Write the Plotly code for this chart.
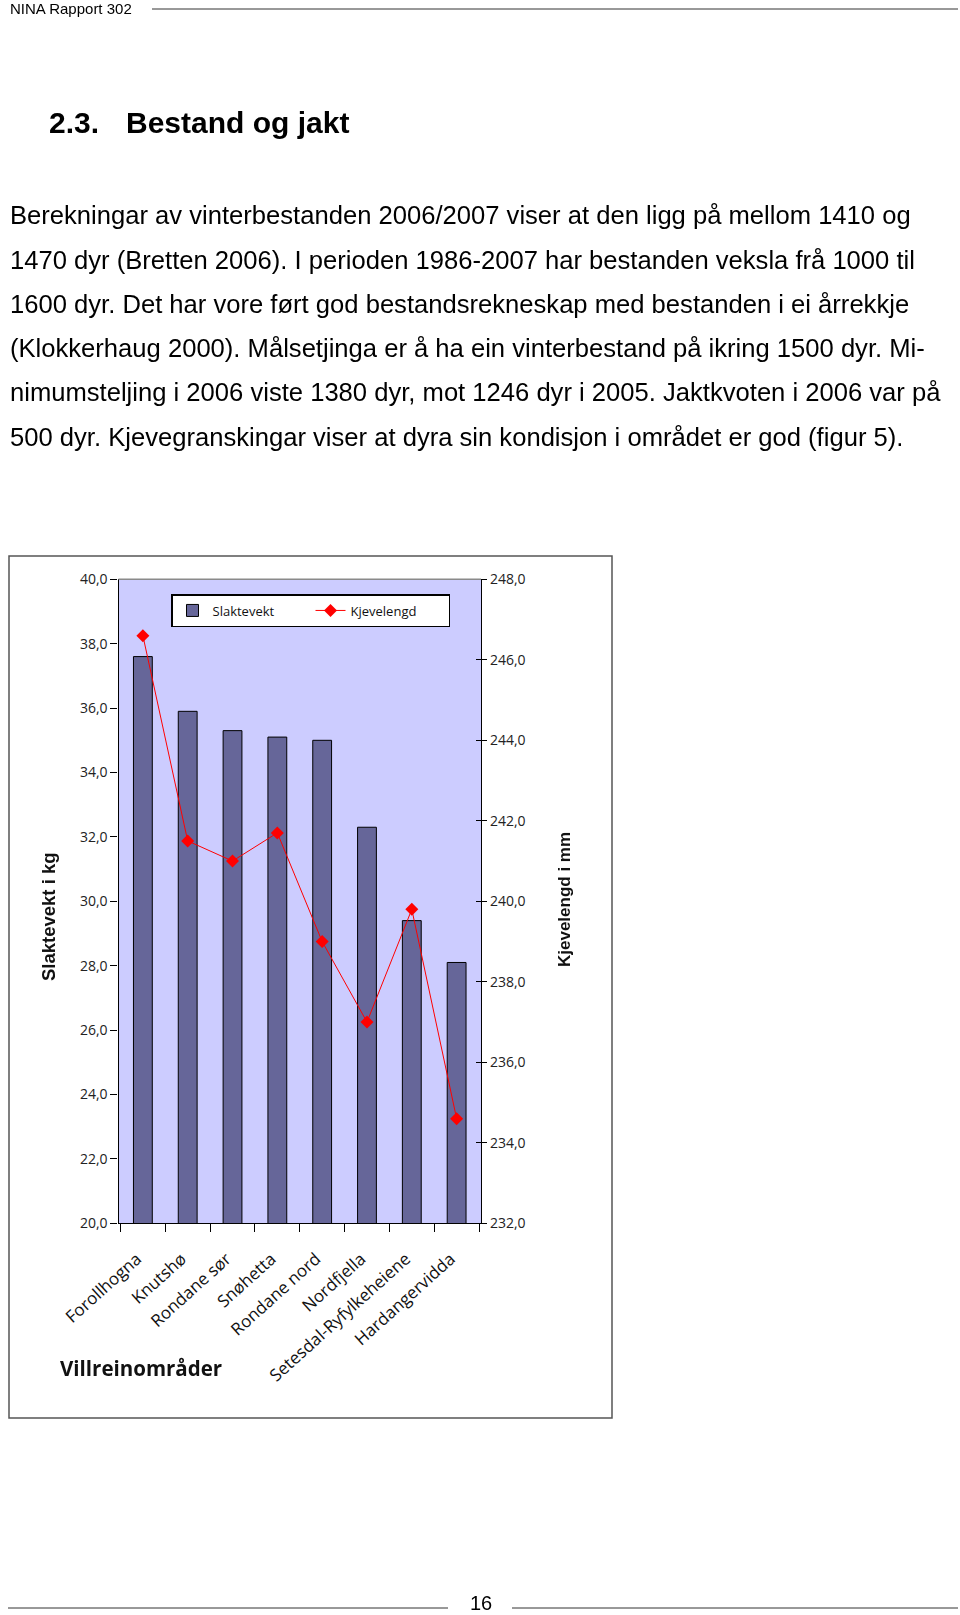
import plotly.graph_objects as go

W, H = 960, 1615


def px(x):
    return x / W


def py(y):
    return 1 - y / H


# ---------------- data ----------------
categories = ["Forollhogna", "Knutshø", "Rondane sør", "Snøhetta", "Rondane nord",
              "Nordfjella", "Setesdal-Ryfylkeheiene", "Hardangervidda"]
slaktevekt = [37.6, 35.9, 35.3, 35.1, 35.0, 32.3, 29.4, 28.1]          # kg
kjevelengd = [246.6, 241.5, 241.0, 241.7, 239.0, 237.0, 239.8, 234.6]  # mm
left_ticks = [20, 22, 24, 26, 28, 30, 32, 34, 36, 38, 40]
right_ticks = [232, 234, 236, 238, 240, 242, 244, 246, 248]

header_text = "NINA Rapport 302"
heading_num = "2.3."
heading_text = "Bestand og jakt"
body_lines = [
    "Berekningar av vinterbestanden 2006/2007 viser at den ligg på mellom 1410 og",
    "1470 dyr (Bretten 2006). I perioden 1986-2007 har bestanden veksla frå 1000 til",
    "1600 dyr. Det har vore ført god bestandsrekneskap med bestanden i ei årrekkje",
    "(Klokkerhaug 2000). Målsetjinga er å ha ein vinterbestand på ikring 1500 dyr. Mi-",
    "nimumsteljing i 2006 viste 1380 dyr, mot 1246 dyr i 2005. Jaktkvoten i 2006 var på",
    "500 dyr. Kjevegranskingar viser at dyra sin kondisjon i området er god (figur 5).",
]
page_number = "16"

# ---------------- geometry ----------------
PL, PR, PT, PB = 118.5, 481.0, 579.3, 1223.3
PAGE_FONT = "Liberation Sans, Arial, sans-serif"
CHART_FONT = "Open Sans, sans-serif"

fig = go.Figure()

fig.add_trace(go.Bar(
    x=categories, y=slaktevekt, name="Slaktevekt",
    marker=dict(color="#666699", line=dict(color="#000000", width=1)),
    xaxis="x", yaxis="y",
))
fig.add_trace(go.Scatter(
    x=categories, y=kjevelengd, name="Kjevelengd", mode="lines+markers",
    line=dict(color="#ff0000", width=1),
    marker=dict(symbol="diamond", size=10, color="#ff0000"),
    xaxis="x", yaxis="y2",
))
# invisible helper trace so the inner half of the right-axis cross ticks is drawn
fig.add_trace(go.Scatter(
    x=categories, y=kjevelengd, mode="markers", opacity=0, showlegend=False,
    hoverinfo="skip", xaxis="x", yaxis="y3",
))

tickfont = dict(family=CHART_FONT, size=14, color="#222222")

fig.update_layout(
    width=W, height=H,
    margin=dict(l=0, r=0, t=0, b=0, pad=0, autoexpand=False),
    paper_bgcolor="white",
    plot_bgcolor="#ccccff",
    separators=", ",
    bargap=0.58,
    showlegend=True,
    legend=dict(
        x=px(171), y=py(594), xanchor="left", yanchor="top",
        orientation="h", bgcolor="white", bordercolor="#000000", borderwidth=1.5,
        font=dict(family=CHART_FONT, size=13, color="#111111"),
        entrywidth=93, entrywidthmode="pixels",
        itemwidth=30,
    ),
    xaxis=dict(
        domain=[px(PL), px(PR)], anchor="y", type="category", automargin=False,
        tickson="boundaries", ticks="outside", ticklen=8, tickwidth=1.2,
        tickcolor="#000000", tickangle=-42,
        ticklabelstandoff=18, ticklabelshift=-6,
        tickfont=dict(family=CHART_FONT, size=17, color="#111111"),
        showline=True, linecolor="#000000", linewidth=1.2,
        showgrid=False, zeroline=False,
    ),
    yaxis=dict(
        domain=[py(PB), py(PT)], anchor="x", range=[20, 40], automargin=False,
        tickmode="array", tickvals=left_ticks, tickformat=".1f",
        ticks="outside", ticklen=7, tickwidth=1.2, tickcolor="#000000",
        tickfont=tickfont,
        showline=True, linecolor="#000000", linewidth=1.2,
        showgrid=False, zeroline=False,
    ),
    yaxis2=dict(
        overlaying="y", side="right", anchor="x", range=[232, 248], automargin=False,
        tickmode="array", tickvals=right_ticks, tickformat=".1f",
        ticks="outside", ticklen=5, tickwidth=1.2, tickcolor="#000000",
        tickfont=tickfont,
        showline=True, linecolor="#000000", linewidth=1.2,
        showgrid=False, zeroline=False,
    ),
    yaxis3=dict(
        overlaying="y", side="right", anchor="x", range=[232, 248], automargin=False,
        tickmode="array", tickvals=right_ticks,
        ticks="inside", ticklen=5, tickwidth=1.2, tickcolor="#000000",
        showticklabels=False, showline=False, showgrid=False, zeroline=False,
    ),
)

shapes = []
# gray top edge of plot area
shapes.append(dict(type="line", xref="paper", yref="paper",
                   x0=px(PL), x1=px(PR), y0=py(PT), y1=py(PT),
                   line=dict(color="#8a8a8a", width=1.5)))
# outer chart frame
shapes.append(dict(type="rect", xref="paper", yref="paper",
                   x0=px(9), x1=px(612), y0=py(556), y1=py(1418),
                   line=dict(color="#555555", width=1.5), layer="below"))
# header rule
shapes.append(dict(type="line", xref="paper", yref="paper",
                   x0=px(152), x1=px(958), y0=py(9), y1=py(9),
                   line=dict(color="#333333", width=1)))
# footer rules
shapes.append(dict(type="line", xref="paper", yref="paper",
                   x0=px(8), x1=px(448), y0=py(1608), y1=py(1608),
                   line=dict(color="#333333", width=1)))
shapes.append(dict(type="line", xref="paper", yref="paper",
                   x0=px(512), x1=px(958), y0=py(1608), y1=py(1608),
                   line=dict(color="#333333", width=1)))
fig.update_layout(shapes=shapes)

ann = []


def text(x, y, s, size, bold=False, family=PAGE_FONT, xanchor="left",
         yanchor="middle", angle=0, color="#000000"):
    ann.append(dict(
        x=px(x), y=py(y), xref="paper", yref="paper", text=f"<b>{s}</b>" if bold else s,
        showarrow=False, xanchor=xanchor, yanchor=yanchor, textangle=angle,
        font=dict(family=family, size=size, color=color),
    ))


text(8, 8, header_text, 15)
text(47, 122, heading_num, 30, bold=True)
text(124, 122, heading_text, 30, bold=True)
line_y = [215, 259.5, 304, 348, 392, 437]
for yy, s in zip(line_y, body_lines):
    text(8, yy, s, 25.6)
text(481, 1603, page_number, 20, xanchor="center")

# axis titles and category title
text(48, 917, "Slaktevekt i kg", 18.5, bold=True, xanchor="center", angle=-90,
     family=PAGE_FONT, color="#111111")
text(564, 900, "Kjevelengd i mm", 17, bold=True, xanchor="center", angle=-90,
     family=PAGE_FONT, color="#111111")
text(58, 1368, "Villreinområder", 20.5, bold=True, family=CHART_FONT, color="#111111")

fig.update_layout(annotations=ann)

fig.write_html("out.html", config={"displayModeBar": False},
               post_script="document.body.style.margin='0px';")
